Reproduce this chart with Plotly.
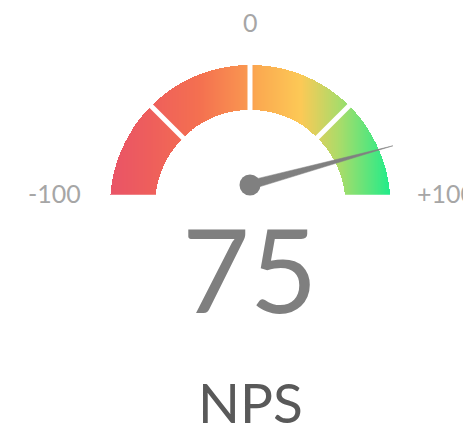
import numpy as np
import plotly.graph_objects as go

# ---- data ----
scale_min, scale_max = -100, 100
band_edges = [-100, -50, 0, 50, 100]
value = 75
title = "NPS"
tick_labels = ["-100", "0", "+100"]
tick_values = [-100, 0, 100]

# ---- styling ----
PX = 140.0                     # pixels per unit radius
R_OUT, R_IN = 1.0, 95 / PX
Y_CUT = 11 / PX
GAP_PX = 5
grad_stops = [
    (0.00, "#e95467"), (0.14, "#ee5e5c"), (0.32, "#f47050"),
    (0.48, "#f99450"), (0.52, "#fba850"), (0.68, "#fcc956"),
    (0.82, "#a8dc6a"), (1.00, "#20ec8a"),
]
FONT = "Lato"
W, H = 463, 421          # page has an 8px body margin
CX, CY = 242, 197        # gauge centre in figure pixels


def angle_of(v):
    return np.pi * (scale_max - v) / (scale_max - scale_min)


# gradient ring as masked heatmap (horizontal gradient)
step = 0.5 / PX
xs = np.arange(-R_OUT, R_OUT + step, step)
ys = np.arange(Y_CUT, R_OUT + step, step)
XX, YY = np.meshgrid(xs, ys)
RR = np.hypot(XX, YY)
mask = (RR <= R_OUT) & (RR >= R_IN) & (YY >= Y_CUT)
Z = np.where(mask, XX, np.nan)

fig = go.Figure()
fig.add_trace(go.Heatmap(
    x=xs, y=ys, z=Z, zmin=-R_OUT, zmax=R_OUT,
    colorscale=[[s, c] for s, c in grad_stops],
    showscale=False, hoverinfo="skip", zsmooth=False,
))

# white gaps between bands
for b in band_edges[1:-1]:
    a = angle_of(b)
    fig.add_shape(type="line",
                  x0=0.6 * np.cos(a), y0=0.6 * np.sin(a),
                  x1=1.05 * np.cos(a), y1=1.05 * np.sin(a),
                  line=dict(color="white", width=GAP_PX), layer="above")

# needle
pivot = np.array([0.0, 20 / PX])
a = angle_of(value)
tip = np.array([np.cos(a), np.sin(a)]) * (154.7 / PX)
d = tip - pivot
d = d / np.hypot(*d)
n = np.array([-d[1], d[0]]) * (4.5 / PX)
pts = [pivot + n, tip, pivot - n, pivot + n]
fig.add_trace(go.Scatter(
    x=[p[0] for p in pts], y=[p[1] for p in pts], mode="lines",
    fill="toself", fillcolor="#808080", line=dict(color="#808080", width=0.5),
    hoverinfo="skip", showlegend=False,
))
fig.add_trace(go.Scatter(
    x=[pivot[0]], y=[pivot[1]], mode="markers",
    marker=dict(size=21, color="#808080"), hoverinfo="skip", showlegend=False,
))

# tick labels
label_pos = {
    -100: dict(x=-196 / PX, y=-(193 - 205) / PX, xanchor="center"),
    0: dict(x=0, y=(205 - 22) / PX, xanchor="center"),
    100: dict(x=165 / PX, y=-(193 - 205) / PX, xanchor="left"),
}
for tv, tl in zip(tick_values, tick_labels):
    p = label_pos[tv]
    fig.add_annotation(x=p["x"], y=p["y"], text=tl, showarrow=False,
                       xanchor=p["xanchor"], yanchor="middle",
                       font=dict(family=FONT, size=25, color="#a6a6a6"))

fig.add_annotation(x=0, y=-(268 - 205) / PX, text=str(value), showarrow=False,
                   xanchor="center", yanchor="middle",
                   font=dict(family=FONT, size=117, color="#7f7f7f"))
fig.add_annotation(x=0, y=-(402 - 205) / PX, text=title, showarrow=False,
                   xanchor="center", yanchor="middle",
                   font=dict(family=FONT, size=55, color="#595959"))

fig.update_layout(
    width=W, height=H, margin=dict(l=0, r=0, t=0, b=0),
    paper_bgcolor="white", plot_bgcolor="white", showlegend=False,
    xaxis=dict(range=[-CX / PX, (W - CX) / PX], visible=False, fixedrange=True),
    yaxis=dict(range=[-(H - CY) / PX, CY / PX], visible=False, fixedrange=True),
)
fig.write_html("out.html")
